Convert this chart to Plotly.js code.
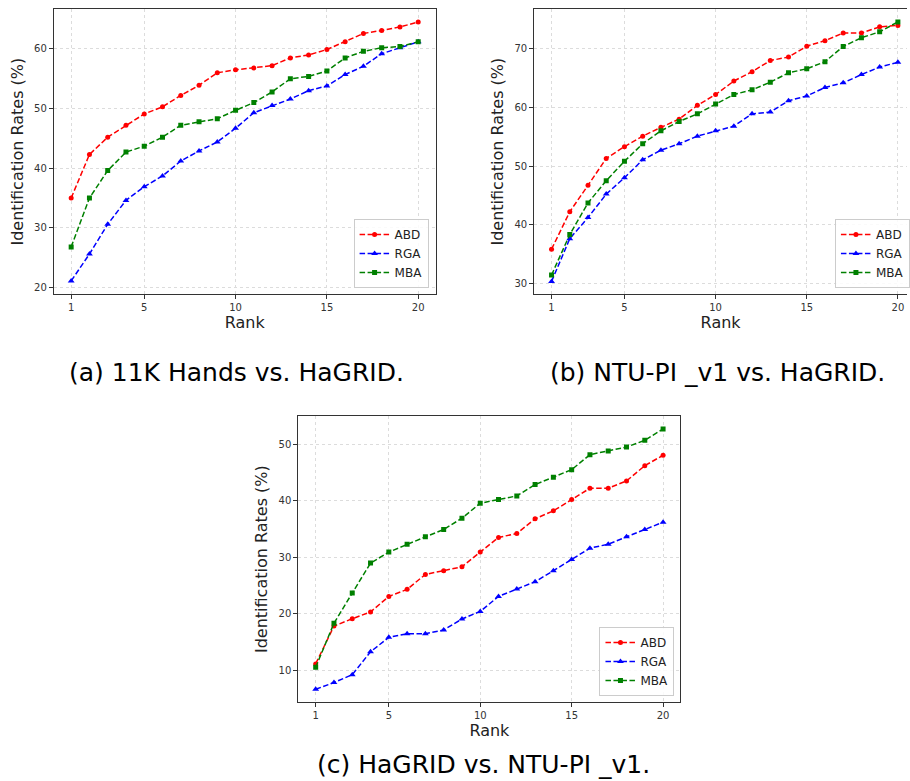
<!DOCTYPE html>
<html>
<head>
<meta charset="utf-8">
<script src="https://cdn.plot.ly/plotly-3.0.1.min.js"></script>
<style>
  html, body { margin: 0; padding: 0; background: #fff; }
  #chart { width: 910px; height: 781px; }
</style>
</head>
<body>
<div id="chart"></div>
<script>
// ---- Data ----
const ranks = [1,2,3,4,5,6,7,8,9,10,11,12,13,14,15,16,17,18,19,20];
const seriesNames = ["ABD", "RGA", "MBA"];
const xTickVals = [1, 5, 10, 15, 20];

// (a) 11K Hands vs. HaGRID
const abdA = [35.0,42.3,45.2,47.2,49.1,50.3,52.2,53.9,56.0,56.5,56.8,57.2,58.5,59.0,59.9,61.2,62.6,63.1,63.7,64.5];
const rgaA = [21.1,25.6,30.6,34.6,36.9,38.7,41.2,42.9,44.4,46.7,49.3,50.5,51.6,53.0,53.8,55.7,57.1,59.2,60.2,61.2];
const mbaA = [26.8,35.0,39.6,42.7,43.7,45.2,47.2,47.8,48.3,49.7,51.0,52.8,55.0,55.4,56.3,58.5,59.6,60.2,60.4,61.2];

// (b) NTU-PI _v1 vs. HaGRID
const abdB = [35.8,42.2,46.7,51.3,53.3,55.1,56.6,58.0,60.35,62.2,64.5,66.1,68.0,68.6,70.45,71.4,72.7,72.7,73.75,74.0];
const rgaB = [30.3,37.6,41.2,45.2,48.0,51.05,52.7,53.8,55.1,56.0,56.8,58.9,59.2,61.15,61.95,63.4,64.2,65.6,66.9,67.7];
const mbaB = [31.4,38.3,43.7,47.5,50.8,53.8,56.0,57.6,58.9,60.6,62.2,63.0,64.3,65.9,66.6,67.8,70.4,71.9,72.9,74.6];

// (c) HaGRID vs. NTU-PI _v1
const abdC = [11.1,17.8,19.1,20.3,23.05,24.3,26.95,27.6,28.3,30.9,33.5,34.2,36.8,38.2,40.2,42.2,42.2,43.5,46.2,48.05];
const rgaC = [6.6,7.8,9.2,13.25,15.8,16.45,16.45,17.1,19.05,20.4,23.05,24.35,25.65,27.6,29.6,31.6,32.3,33.6,34.9,36.2];
const mbaC = [10.5,18.3,23.65,28.95,30.9,32.3,33.6,34.9,36.9,39.55,40.2,40.85,42.85,44.15,45.5,48.15,48.8,49.5,50.7,52.7];

const captions = ["(a) 11K Hands vs. HaGRID.", "(b) NTU-PI _v1 vs. HaGRID.", "(c) HaGRID vs. NTU-PI _v1."];
const xTitle = "Rank";
const yTitle = "Identification Rates (%)";

// ---- Styles ----
const W = 910, H = 781;
const colors = ["#ff0000", "#0000ff", "#008000"];
const symbols = ["circle", "triangle-up", "square"];
const msizes = [5, 6, 5];
const FONT = "DejaVu Sans";

function mk(y, idx, xa, ya, legend) {
  return {
    x: ranks, y: y, name: seriesNames[idx], type: "scatter", mode: "lines+markers",
    xaxis: xa, yaxis: ya, legend: legend, showlegend: true,
    line: { color: colors[idx], width: 1.5, dash: "5.5px,2.5px" },
    marker: { color: colors[idx], symbol: symbols[idx], size: msizes[idx] }
  };
}

const traces = [
  mk(abdA, 0, "x", "y", "legend"),
  mk(rgaA, 1, "x", "y", "legend"),
  mk(mbaA, 2, "x", "y", "legend"),
  mk(abdB, 0, "x2", "y2", "legend2"),
  mk(rgaB, 1, "x2", "y2", "legend2"),
  mk(mbaB, 2, "x2", "y2", "legend2"),
  mk(abdC, 0, "x3", "y3", "legend3"),
  mk(rgaC, 1, "x3", "y3", "legend3"),
  mk(mbaC, 2, "x3", "y3", "legend3")
];

function px(x) { return x / W; }
function py(y) { return 1 - y / H; }

function xAxis(domain, range, anchor, mirror) {
  return {
    domain: domain, range: range, anchor: anchor,
    tickmode: "array", tickvals: xTickVals,
    ticks: "outside", ticklen: 4, tickcolor: "#333", tickwidth: 1,
    tickfont: { family: FONT, size: 10, color: "#333" },
    showline: true, linecolor: "#333", linewidth: 1, mirror: mirror,
    showgrid: true, gridcolor: "#dcdcdc", griddash: "dot", gridwidth: 1,
    zeroline: false, automargin: false,
    title: { text: xTitle, font: { family: FONT, size: 16, color: "#222" }, standoff: 4 }
  };
}
function yAxis(domain, range, anchor, mirror) {
  return {
    domain: domain, range: range, anchor: anchor,
    dtick: 10, tick0: 0,
    ticks: "outside", ticklen: 4, tickcolor: "#333", tickwidth: 1,
    tickfont: { family: FONT, size: 10, color: "#333" },
    showline: true, linecolor: "#333", linewidth: 1, mirror: mirror,
    showgrid: true, gridcolor: "#dcdcdc", griddash: "dot", gridwidth: 1,
    zeroline: false, automargin: false,
    title: { text: yTitle, font: { family: FONT, size: 16, color: "#222" }, standoff: 6 }
  };
}

const legendStyle = {
  bgcolor: "rgba(255,255,255,0.85)", bordercolor: "#cccccc", borderwidth: 1,
  font: { family: FONT, size: 12, color: "#222" },
  tracegroupgap: 0, itemwidth: 30
};

const capFont = { family: FONT, size: 25, color: "#000" };

const layout = {
  width: W, height: H,
  margin: { l: 0, r: 0, t: 0, b: 0, pad: 0 },
  paper_bgcolor: "#fff", plot_bgcolor: "#fff",
  font: { family: FONT },
  xaxis:  xAxis([px(54), px(437)], [0.05, 20.95], "y", true),
  yaxis:  yAxis([py(294), py(9.3)], [18.9, 66.65], "x", true),
  xaxis2: xAxis([px(536), 1.0], [0.05, 20.5], "y2", true),
  yaxis2: yAxis([py(294), py(9.3)], [28.15, 76.75], "x2", false),
  xaxis3: xAxis([px(299.3), px(682.7)], [0.05, 20.95], "y3", true),
  yaxis3: yAxis([py(702.3), py(416)], [4.3, 55.0], "x3", true),
  legend:  Object.assign({ x: px(430), y: py(288), xanchor: "right", yanchor: "bottom" }, legendStyle),
  legend2: Object.assign({ x: px(837.7), y: py(288), xanchor: "left", yanchor: "bottom" }, legendStyle),
  legend3: Object.assign({ x: px(676.7), y: py(696), xanchor: "right", yanchor: "bottom" }, legendStyle),
  annotations: [
    { text: captions[0], x: px(237.5), y: py(372), xref: "paper", yref: "paper", xanchor: "center", yanchor: "middle", showarrow: false, font: capFont },
    { text: captions[1], x: px(720), y: py(372), xref: "paper", yref: "paper", xanchor: "center", yanchor: "middle", showarrow: false, font: capFont },
    { text: captions[2], x: px(485), y: py(764), xref: "paper", yref: "paper", xanchor: "center", yanchor: "middle", showarrow: false, font: capFont }
  ],
  showlegend: true
};

Plotly.newPlot("chart", traces, layout, { displayModeBar: false, staticPlot: true });
</script>
</body>
</html>
